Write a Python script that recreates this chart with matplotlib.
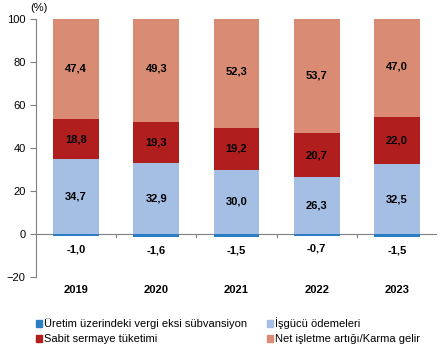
import numpy as np
import matplotlib
matplotlib.use('Agg')
import matplotlib.pyplot as plt
from matplotlib.patches import Patch

plt.rcParams['font.family'] = ['Liberation Sans', 'DejaVu Sans']

years = ['2019', '2020', '2021', '2022', '2023']
uretim = [-1.0, -1.6, -1.5, -0.7, -1.5]
isgucu = [34.7, 32.9, 30.0, 26.3, 32.5]
sabit = [18.8, 19.3, 19.2, 20.7, 22.0]
net = [47.4, 49.3, 52.3, 53.7, 47.0]

names = ['Üretim üzerindeki vergi eksi sübvansiyon', 'İşgücü ödemeleri',
         'Sabit sermaye tüketimi', 'Net işletme artığı/Karma gelir']
colors = ['#2b7ec6', '#a4bee4', '#b01e1e', '#d98b74']

fig = plt.figure(figsize=(4.48, 3.52), dpi=100)
ax = fig.add_axes([36/448, 1-277/352, 401/448, 258/352])

x = np.arange(len(years))
w = 0.57
ax.bar(x, uretim, w, color=colors[0])
ax.bar(x, isgucu, w, color=colors[1])
b2 = np.array(isgucu)
ax.bar(x, sabit, w, bottom=b2, color=colors[2])
b3 = b2 + np.array(sabit)
ax.bar(x, net, w, bottom=b3, color=colors[3])

fmt = lambda v: ('%.1f' % v).replace('.', ',')
for i in range(len(years)):
    ax.text(x[i], uretim[i] - 6, fmt(uretim[i]), ha='center', va='center',
            fontsize=8, fontweight='bold')
    ax.text(x[i], isgucu[i] / 2, fmt(isgucu[i]), ha='center', va='center',
            fontsize=8, fontweight='bold')
    ax.text(x[i], b2[i] + sabit[i] / 2, fmt(sabit[i]), ha='center', va='center',
            fontsize=8, fontweight='bold')
    ax.text(x[i], b3[i] + net[i] / 2, fmt(net[i]), ha='center', va='center',
            fontsize=8, fontweight='bold')
    ax.text(x[i], -26, years[i], ha='center', va='center', fontsize=8,
            fontweight='bold')

ax.set_xlim(-0.5, len(years) - 0.5)
ax.set_ylim(-20, 100)
ax.set_yticks(range(-20, 101, 20))
ax.tick_params(axis='y', colors='#808080', labelcolor='black', labelsize=8,
               length=4, width=0.8)
ax.set_xticks([])
for s in ['top', 'right', 'bottom']:
    ax.spines[s].set_visible(False)
ax.spines['left'].set_color('#808080')

# zero line with category ticks
ax.axhline(0, color='#808080', lw=0.8, zorder=0.5)
for k in range(1, len(years)):
    ax.plot([k - 0.5, k - 0.5], [0, -1.5], color='#808080', lw=0.8,
            clip_on=False)

fig.text(30/448, 1-8/352, '(%)', fontsize=8, va='center')

# legend filled column-wise, so order gives row-wise reading as in reference
order = [0, 2, 1, 3]
handles = [Patch(color=colors[i]) for i in order]
labels = [names[i] for i in order]
fig.legend(handles, labels, loc='upper left', bbox_to_anchor=(30/448, 1-312/352),
           ncol=2, frameon=False, fontsize=8, handlelength=0.55,
           handleheight=0.6, handletextpad=0.2, columnspacing=1.8,
           labelspacing=0.45, borderpad=0)

fig.savefig('out.png', dpi=100)
